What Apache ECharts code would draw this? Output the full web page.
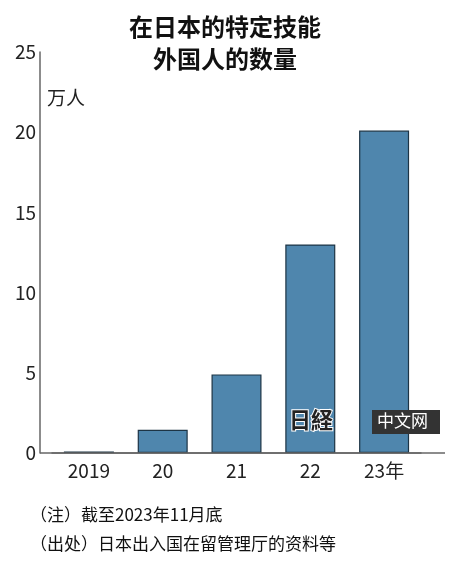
<!DOCTYPE html>
<html>
<head>
<meta charset="utf-8">
<script src="https://cdn.jsdelivr.net/npm/echarts@6/dist/echarts.min.js"></script>
<style>
html,body{margin:0;padding:0;background:#fff;}
#chart{width:450px;height:571px;}
</style>
</head>
<body>
<div id="chart"></div>
<script>
var categories = ['2019', '20', '21', '22', '23年'];
var values = [0.1, 1.45, 4.9, 13.0, 20.1];
var yTicks = [0, 5, 10, 15, 20, 25];

var myChart = echarts.init(document.getElementById('chart'));
var font = '"Noto Sans CJK SC", sans-serif';
var option = {
  animation: false,
  title: {
    text: '在日本的特定技能\n外国人的数量',
    left: 'center',
    top: 6,
    textStyle: { fontFamily: font, fontSize: 24, fontWeight: 'bold', color: '#111', lineHeight: 32 }
  },
  grid: { left: 52, right: 29, top: 52, bottom: 118 },
  xAxis: {
    type: 'category',
    data: categories,
    axisLine: { lineStyle: { color: '#666', width: 1.5 } },
    axisTick: { show: false },
    axisLabel: { fontFamily: font, fontSize: 19, color: '#222', margin: 8 }
  },
  yAxis: {
    type: 'value',
    min: 0,
    max: 25,
    interval: 5,
    offset: 12,
    axisLine: { show: true, lineStyle: { color: '#666', width: 1.5 } },
    axisTick: { show: false },
    splitLine: { show: false },
    axisLabel: {
      fontFamily: font, fontSize: 19, color: '#222', margin: 4,
      formatter: function (v) { return yTicks.indexOf(v) >= 0 ? v : ''; }
    }
  },
  series: [{
    type: 'bar',
    data: values,
    barWidth: 50,
    itemStyle: { color: '#4f86ad', borderColor: '#1d3445', borderWidth: 1.2 }
  }],
  graphic: [
    { type: 'line', z: 50, shape: { x1: 40, y1: 453, x2: 445, y2: 453 }, style: { stroke: '#666', lineWidth: 1.5 } },
    { type: 'text', left: 47, top: 88, z: 50, style: { text: '万人', fontFamily: font, fontSize: 19, fill: '#222' } },
    { type: 'rect', left: 372, top: 410, z: 100, shape: { width: 68, height: 24 }, style: { fill: '#333' } },
    { type: 'text', left: 377, top: 412, z: 101, style: { text: '中文网', fontFamily: font, fontSize: 17, fill: '#fff' } },
    { type: 'text', left: 288, top: 408, z: 101, style: { text: '日経', fontFamily: font, fontSize: 22, fontWeight: 'bold', fill: '#222', stroke: '#fff', lineWidth: 2 } },
    { type: 'text', left: 30, top: 506, z: 50, style: { text: '（注）截至2023年11月底', fontFamily: font, fontSize: 17, fill: '#111' } },
    { type: 'text', left: 30, top: 535, z: 50, style: { text: '（出处）日本出入国在留管理厅的资料等', fontFamily: font, fontSize: 17, fill: '#111' } }
  ]
};
myChart.setOption(option);
</script>
</body>
</html>
